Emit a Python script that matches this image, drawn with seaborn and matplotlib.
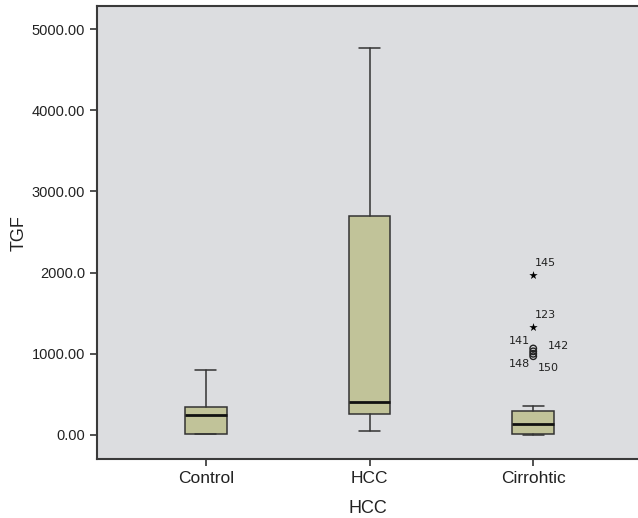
import matplotlib
matplotlib.use('Agg')
import matplotlib.pyplot as plt
import pandas as pd
import seaborn as sns

# values
groups = ['Control', 'HCC', 'Cirrohtic']
whislo = [15, 45, 5]
q1 = [15, 255, 12]
med = [240, 405, 132]
q3 = [350, 2700, 300]
whishi = [795, 4770, 360]

# outliers of the Cirrohtic group (case number, TGF, kind)
case_ids = ['145', '123', '141', '142', '148', '150']
case_vals = [1975, 1335, 1065, 1030, 1000, 970]
case_kind = ['extreme', 'extreme', 'outlier', 'outlier', 'outlier', 'outlier']
label_offsets = [(12, 12), (12, 12), (-14, 8), (25, 5), (-14, -10), (15, -12)]

ytick_vals = [0, 1000, 2000, 3000, 4000, 5000]
ytick_text = ['0.00', '1000.00', '2000.0', '3000.00', '4000.00', '5000.00']

sns.set_style('ticks', {'axes.facecolor': '#DCDDE0',
                        'axes.edgecolor': '#3a3a3a'})
plt.rcParams['font.family'] = ['Liberation Sans', 'DejaVu Sans']

fig = plt.figure(figsize=(6.38, 5.18), dpi=100)
ax = fig.add_axes([0.152, 0.114, 0.848, 0.874])

stats = []
for i, g in enumerate(groups):
    stats.append({'label': g, 'whislo': whislo[i], 'q1': q1[i], 'med': med[i],
                  'q3': q3[i], 'whishi': whishi[i], 'fliers': []})

ax.bxp(stats, positions=[0, 1, 2], widths=0.256, patch_artist=True,
       showfliers=False,
       boxprops=dict(facecolor='#C1C399', edgecolor='#333333', linewidth=1.1),
       medianprops=dict(color='#111111', linewidth=2.0),
       whiskerprops=dict(color='#333333', linewidth=1.1),
       capprops=dict(color='#333333', linewidth=1.1),
       capwidths=0.128)

df = pd.DataFrame({'x': [2] * len(case_vals), 'TGF': case_vals,
                   'kind': case_kind, 'case': case_ids})
sns.scatterplot(data=df[df['kind'] == 'extreme'], x='x', y='TGF', marker='*',
                s=40, color='black', linewidth=0, ax=ax, legend=False)
sns.scatterplot(data=df[df['kind'] == 'outlier'], x='x', y='TGF', marker='o',
                s=22, facecolor='none', edgecolor='#222222', linewidth=1.0,
                ax=ax, legend=False)

for cid, val, off in zip(case_ids, case_vals, label_offsets):
    ax.annotate(cid, (2, val), xytext=off, textcoords='offset pixels',
                ha='center', va='center', fontsize=8, family='DejaVu Sans',
                color='#222222')

ax.set_xlim(-0.665, 2.64)
ax.set_ylim(-296, 5283)
ax.set_xticks([0, 1, 2])
ax.set_xticklabels(groups, fontsize=12.5, color='#222222')
ax.set_yticks(ytick_vals)
ax.set_yticklabels(ytick_text, fontsize=10.5, color='#222222')
ax.tick_params(axis='both', direction='out', length=5, width=1.2, color='#333333')
ax.set_xlabel('HCC', fontsize=13, color='#222222', labelpad=10)
ax.set_ylabel('TGF', fontsize=13, color='#222222', labelpad=3)

for side in ['left', 'bottom', 'top']:
    ax.spines[side].set_linewidth(1.5)
ax.spines['right'].set_visible(False)

plt.savefig('out.png', dpi=100)
